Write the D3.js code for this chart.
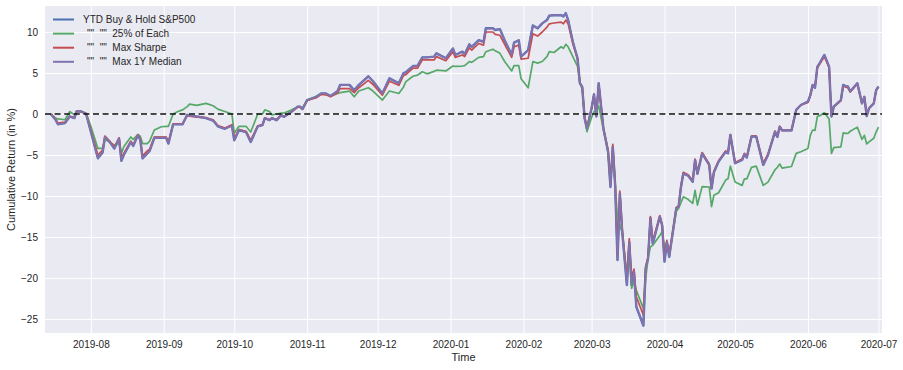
<!DOCTYPE html>
<html>
<head>
<meta charset="utf-8">
<script src="https://cdn.jsdelivr.net/npm/d3@7"></script>
<style>
  body { margin: 0; background: #fff; }
  svg text { font-family: Arial, "Liberation Sans", sans-serif; fill: #262626; }
</style>
</head>
<body>
<svg id="svg"></svg>
<script>
// dates of the plotted points
const dates = [
  "2019-07-15","2019-07-17","2019-07-18","2019-07-21","2019-07-23","2019-07-25","2019-07-26","2019-07-28","2019-07-30",
  "2019-08-01","2019-08-04","2019-08-06","2019-08-07","2019-08-09","2019-08-11","2019-08-13","2019-08-14","2019-08-15",
  "2019-08-18","2019-08-19","2019-08-21","2019-08-22","2019-08-23","2019-08-25","2019-08-26","2019-08-28","2019-08-31",
  "2019-09-02","2019-09-03","2019-09-05","2019-09-07","2019-09-09","2019-09-11","2019-09-12","2019-09-15",
  "2019-09-19","2019-09-22","2019-09-24","2019-09-27","2019-09-30","2019-10-01","2019-10-03","2019-10-06","2019-10-08",
  "2019-10-11","2019-10-13","2019-10-14","2019-10-16","2019-10-17","2019-10-19","2019-10-21","2019-10-22","2019-10-25",
  "2019-10-28","2019-10-29","2019-10-30","2019-11-01","2019-11-03","2019-11-05","2019-11-07","2019-11-09","2019-11-11",
  "2019-11-14","2019-11-15","2019-11-19","2019-11-21","2019-11-23",
  "2019-11-27","2019-11-29","2019-12-03","2019-12-06","2019-12-10","2019-12-12","2019-12-13","2019-12-16","2019-12-18",
  "2019-12-20","2019-12-22","2019-12-25","2019-12-26","2019-12-30","2020-01-02","2020-01-03","2020-01-06","2020-01-07",
  "2020-01-09","2020-01-10","2020-01-13","2020-01-15","2020-01-16","2020-01-19","2020-01-20","2020-01-22","2020-01-24",
  "2020-01-27","2020-01-28","2020-01-30","2020-01-31",
  "2020-02-03","2020-02-05","2020-02-07","2020-02-09","2020-02-11","2020-02-12","2020-02-14","2020-02-17","2020-02-18",
  "2020-02-19","2020-02-20","2020-02-22","2020-02-24","2020-02-25","2020-02-26","2020-02-27","2020-02-28",
  "2020-03-01","2020-03-02","2020-03-03","2020-03-04","2020-03-06","2020-03-08","2020-03-09","2020-03-10","2020-03-11",
  "2020-03-12","2020-03-13","2020-03-14","2020-03-16","2020-03-17","2020-03-18","2020-03-19","2020-03-20","2020-03-23",
  "2020-03-24","2020-03-25","2020-03-26","2020-03-27","2020-03-30","2020-03-31",
  "2020-04-01","2020-04-02","2020-04-03","2020-04-06","2020-04-07","2020-04-08","2020-04-09","2020-04-11","2020-04-13",
  "2020-04-14","2020-04-15","2020-04-17","2020-04-20","2020-04-21","2020-04-22","2020-04-24","2020-04-27","2020-04-28","2020-04-29",
  "2020-05-01","2020-05-04","2020-05-05","2020-05-06","2020-05-08","2020-05-10","2020-05-13","2020-05-15","2020-05-18",
  "2020-05-19","2020-05-20","2020-05-21","2020-05-25","2020-05-27","2020-05-29",
  "2020-06-01","2020-06-02","2020-06-03","2020-06-04","2020-06-05","2020-06-06","2020-06-08","2020-06-10","2020-06-11",
  "2020-06-12","2020-06-15","2020-06-16","2020-06-17","2020-06-18","2020-06-19","2020-06-22","2020-06-24","2020-06-25",
  "2020-06-26","2020-06-27","2020-06-29","2020-06-30","2020-07-01"
];

// cumulative return in %, one value per date
const sp500 = [
  0, -0.7, -1.25, -1.1, -0.3, -0.5, 0.35, 0.3, 0.0, -2.15, -5.4, -4.7, -2.8, -3.4, -4.2, -3.0, -5.7, -5.0,
  -3.4, -3.9, -2.6, -3.1, -5.4, -4.8, -4.5, -2.9, -2.9, -2.9, -3.6, -1.25, -1.25, -1.25, -0.1, -0.2, -0.3,
  -0.5, -0.8, -1.5, -1.8, -1.4, -3.2, -1.95, -2.2, -3.4, -1.5, -1.35, -0.5, -0.75, -0.5, -0.75, -0.1, -0.35, 0.2,
  0.9, 0.9, 0.6, 1.7, 1.9, 2.1, 2.5, 2.5, 2.2, 2.8, 3.55, 3.55, 2.9, 3.55,
  4.6, 4.0, 2.5, 4.35, 3.75, 5.0, 5.1, 5.85, 5.9, 6.9, 6.9, 7.0, 7.4, 6.8, 8.0, 7.2, 7.6, 7.3,
  8.5, 8.2, 9.0, 8.8, 10.45, 10.45, 10.25, 10.35, 9.0, 7.2, 8.7, 9.0, 7.0,
  7.8, 10.8, 10.45, 11.05, 11.45, 12.0, 12.05, 12.05, 11.9, 12.3, 11.45, 8.8, 6.8, 3.75, 3.3, -0.5, -1.8,
  0.7, 2.4, -0.3, 3.75, -1.75, -4.6, -8.9, -4.0, -8.65, -17.8, -9.7, -14.35, -20.85, -15.6, -20.85, -19.2, -23.5, -25.8,
  -18.8, -17.6, -12.7, -15.8, -12.5, -13.6,
  -18.0, -15.6, -17.4, -11.5, -11.3, -8.9, -7.25, -7.5, -8.25, -5.6, -7.3, -4.8, -6.2, -9.1, -7.1, -5.8, -4.6, -4.8, -2.55,
  -6.0, -5.6, -4.9, -5.3, -2.75, -2.75, -6.2, -5.0, -2.15, -2.8, -1.55, -2.0, -2.0, 0.5, 1.1,
  1.5, 2.3, 3.55, 3.2, 5.75, 6.2, 7.2, 5.75, -0.3, 0.9, 1.7, 3.55, 3.4, 3.35, 2.75, 3.75, 1.3, 2.1, -0.25, 0.7, 1.3, 2.9, 3.35
];
const each25 = [
  0, -0.5, -0.6, -0.7, 0.3, -0.1, 0.35, 0.3, 0.1, -1.5, -4.2, -4.2, -3.1, -3.4, -3.8, -3.6, -4.8, -4.0,
  -2.8, -3.1, -2.5, -2.7, -3.6, -3.6, -3.3, -1.95, -1.55, -1.5, -1.5, 0.0, 0.3, 0.5, 0.9, 1.2, 1.05,
  1.3, 1.0, 0.6, 0.3, 0.0, -2.35, -1.5, -1.5, -2.2, 0.0, 0.0, 0.5, 0.3, -0.1, 0.0, 0.1, 0.1, 0.45,
  0.9, 0.8, 0.7, 1.7, 1.9, 2.2, 2.5, 2.35, 2.2, 2.5, 2.6, 2.8, 2.1, 2.8,
  3.2, 2.8, 1.7, 2.8, 2.5, 3.3, 3.95, 4.6, 4.75, 5.15, 4.9, 5.2, 5.35, 5.25, 5.85, 5.8, 5.85, 5.9,
  6.4, 6.3, 6.9, 7.0, 7.6, 7.9, 7.7, 7.4, 6.4, 5.25, 5.9, 5.9, 4.3,
  3.2, 6.4, 6.2, 6.4, 7.0, 7.6, 7.5, 8.2, 8.0, 8.5, 8.2, 7.0, 5.8, 3.9, 3.0, -0.1, -2.15,
  -0.4, 0.3, 0.3, 1.0, -1.9, -4.7, -8.5, -4.5, -8.6, -12.8, -13.5, -14.5, -19.5, -16.5, -21.25, -20.5, -21.5, -23.7,
  -20.0, -17.6, -16.2, -16.0, -14.8, -14.35,
  -16.5, -15.6, -17.2, -11.9, -11.5, -10.8, -10.1, -10.4, -10.9, -9.3, -11.1, -8.85, -8.9, -11.3, -9.9, -9.6, -8.05, -7.9, -6.35,
  -8.3, -8.7, -7.9, -7.9, -6.5, -6.35, -8.7, -8.3, -6.8, -6.5, -6.1, -6.6, -6.4, -4.8, -4.6,
  -4.2, -2.6, -1.95, -2.0, -0.3, -0.2, 0.15, -0.6, -4.8, -4.1, -4.0, -2.3, -2.35, -2.35, -2.1, -1.6, -3.1, -2.6, -3.65, -3.4, -2.95, -2.2, -1.6
];
const maxSharpe = [
  0, -0.6, -1.1, -1.0, -0.3, -0.4, 0.35, 0.3, 0.05, -2.0, -5.0, -4.4, -2.7, -3.3, -4.0, -2.9, -5.4, -4.8,
  -3.3, -3.8, -2.5, -3.0, -5.1, -4.5, -4.3, -2.8, -2.8, -2.8, -3.4, -1.2, -1.2, -1.2, -0.2, -0.25, -0.35,
  -0.45, -0.7, -1.4, -1.7, -1.3, -3.0, -1.9, -2.1, -3.2, -1.45, -1.3, -0.5, -0.7, -0.5, -0.7, -0.1, -0.3, 0.2,
  0.85, 0.85, 0.6, 1.65, 1.85, 2.0, 2.4, 2.35, 2.1, 2.6, 3.1, 3.1, 2.6, 3.2,
  4.1, 3.6, 2.3, 4.0, 3.5, 4.7, 4.8, 5.6, 5.6, 6.6, 6.6, 6.6, 7.0, 6.5, 7.6, 6.9, 7.2, 7.0,
  8.1, 7.8, 8.6, 8.4, 10.0, 10.0, 9.7, 9.6, 8.5, 6.9, 8.2, 8.4, 6.7,
  6.8, 9.8, 9.5, 10.0, 10.6, 11.0, 11.1, 11.2, 11.0, 11.45, 11.0, 8.6, 6.7, 3.75, 3.3, -0.4, -1.7,
  0.8, 2.4, -0.2, 3.7, -1.7, -4.4, -8.6, -3.7, -8.3, -17.2, -9.4, -14.0, -20.3, -15.2, -20.0, -18.9, -22.3, -24.5,
  -18.6, -17.5, -12.5, -15.5, -12.4, -13.5,
  -17.6, -15.4, -17.2, -11.4, -11.2, -8.8, -7.1, -7.4, -8.1, -5.5, -7.2, -4.7, -6.1, -9.0, -7.0, -5.7, -4.5, -4.7, -2.5,
  -5.9, -5.5, -4.8, -5.2, -2.7, -2.7, -6.0, -4.9, -2.1, -2.7, -1.5, -2.0, -2.0, 0.5, 1.1,
  1.4, 2.2, 3.5, 3.3, 5.6, 6.1, 7.0, 5.7, -0.2, 0.9, 1.6, 3.4, 3.3, 3.2, 2.7, 3.7, 1.3, 2.1, -0.2, 0.7, 1.3, 2.9, 3.3
];
const median1y = sp500.slice();   // lies on top of the S&P500 line

const seriesNames = ["YTD Buy & Hold S&P500", "\"\"  \"\"  25% of Each", "\"\"  \"\"  Max Sharpe", "\"\"  \"\"  Max 1Y Median"];
const seriesColors = ["#4c72b0", "#55a868", "#c44e52", "#8172b2"];
const yTicks = [-25, -20, -15, -10, -5, 0, 5, 10];

var width = 903;
var height = 370;
// plot box (named so they don't clash with window.top)
var plotL = 45, plotR = 882, plotT = 6, plotB = 333;

var parse = d3.utcParse("%Y-%m-%d");
var when = dates.map(parse);

var svg = d3.select("#svg")
    .attr("width", width)
    .attr("height", height);

var x = d3.scaleUtc()
    .domain([new Date(Date.UTC(2019, 6, 12, 12)), new Date(Date.UTC(2020, 6, 2, 12))])
    .range([plotL, plotR]);
var y = d3.scaleLinear()
    .domain([-26.7, 13.17])
    .range([plotB, plotT]);

// background
svg.append("rect")
    .attr("x", plotL).attr("y", plotT)
    .attr("width", plotR - plotL).attr("height", plotB - plotT)
    .attr("fill", "#eaeaf2");

// grid + tick labels
var yAxis = svg.append("g")
    .attr("transform", `translate(${plotL},0)`)
    .call(d3.axisLeft(y).tickValues(yTicks).tickSize(-(plotR - plotL)).tickPadding(7));
var xAxis = svg.append("g")
    .attr("transform", `translate(0,${plotB})`)
    .call(d3.axisBottom(x).ticks(d3.utcMonth.every(1)).tickFormat(d3.utcFormat("%Y-%m"))
      .tickSize(-(plotB - plotT)).tickPadding(8));

[xAxis, yAxis].forEach(g => {
  g.select(".domain").remove();
  g.selectAll(".tick line").attr("stroke", "#fff").attr("stroke-width", 1);
  g.selectAll(".tick text").attr("font-size", 10).attr("fill", "#262626");
});
xAxis.selectAll(".tick").filter(d => x(d) < plotL || x(d) > plotR).remove();

// the lines
var series = [sp500, each25, maxSharpe, median1y];
var line = d3.line()
    .x((d, i) => x(when[i]))
    .y(d => y(d));

svg.append("g")
  .selectAll("path")
  .data(series)
  .join("path")
    .attr("d", d => line(d))
    .attr("fill", "none")
    .attr("stroke", (d, i) => seriesColors[i])
    .attr("stroke-width", (d, i) => i == 0 ? 2.4 : 1.7)
    .attr("stroke-linejoin", "round");

// zero line
svg.append("line")
    .attr("x1", plotL).attr("x2", plotR)
    .attr("y1", y(0)).attr("y2", y(0))
    .attr("stroke", "#111")
    .attr("stroke-width", 1.7)
    .attr("stroke-dasharray", "6,3.6");

// legend
var legend = svg.append("g")
  .selectAll("g")
  .data(seriesNames)
  .join("g")
    .attr("transform", (d, i) => `translate(53,${19.5 + i * 14.1})`);
legend.append("line")
    .attr("x1", 0).attr("x2", 21)
    .attr("stroke", (d, i) => seriesColors[i])
    .attr("stroke-width", 2);
legend.append("text")
    .attr("x", (d, i) => i == 0 ? 30 : 34)
    .attr("dy", "0.35em")
    .attr("font-size", 10)
    .style("white-space", "pre")
    .text(d => d);

// axis labels
svg.append("text")
    .attr("x", (plotL + plotR) / 2)
    .attr("y", 361)
    .attr("text-anchor", "middle")
    .attr("font-size", 11)
    .text("Time");
svg.append("text")
    .attr("transform", `translate(15,${(plotT + plotB) / 2}) rotate(-90)`)
    .attr("text-anchor", "middle")
    .attr("font-size", 11)
    .text("Cumulative Return (in %)");
</script>
</body>
</html>
